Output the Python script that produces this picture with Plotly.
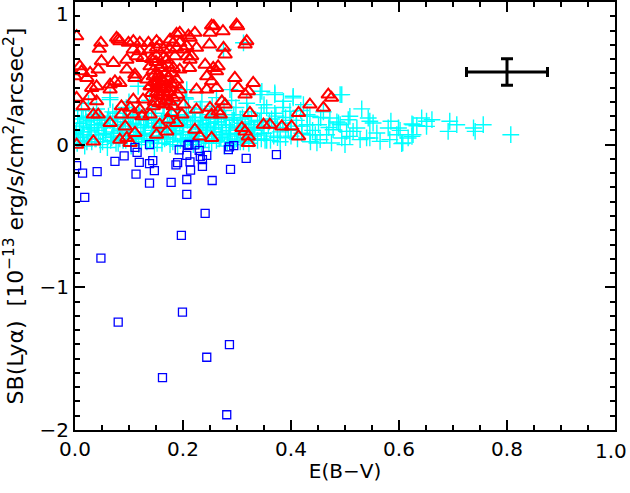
import plotly.graph_objects as go

# ---------------- data ----------------
# cyan plus points (E(B-V), SB)
cyan_ebv = [
 0.004,0.018,0.031,0.047,0.060,0.076,0.089,0.104,0.118,0.133,0.147,0.161,0.176,0.190,0.205,0.219,0.234,0.248,0.262,0.277,0.291,0.306,0.322,0.338,
 0.010,0.024,0.039,0.053,0.068,0.083,0.097,0.112,0.126,0.140,0.155,0.169,0.183,0.198,0.212,0.227,0.241,0.256,0.270,0.285,0.299,0.314,0.329,0.345,0.362,0.380,
 0.003,0.016,0.030,0.044,0.058,0.072,0.087,0.101,0.115,0.130,0.144,0.158,0.173,0.187,0.201,0.216,0.230,0.245,0.259,0.273,0.288,0.302,0.317,0.333,0.350,0.368,0.390,0.412,0.436,
 0.008,0.022,0.036,0.050,0.065,0.079,0.093,0.108,0.122,0.136,0.151,0.165,0.179,0.194,0.208,0.223,0.237,0.251,0.266,0.280,0.295,0.310,0.326,0.342,0.358,0.375,0.395,0.420,0.445,
 0.005,0.020,0.034,0.048,0.062,0.077,0.091,0.106,0.120,0.134,0.149,0.163,0.178,0.192,0.206,0.221,0.235,0.250,0.264,0.279,0.294,0.310,0.327,0.345,0.364,0.385,0.410,
 0.012,0.040,0.070,0.095,0.118,0.142,0.165,0.188,0.210,0.232,0.254,0.276,0.298,0.320,0.345,0.372,0.400,0.430,
 0.025,0.065,0.100,0.138,0.175,0.205,0.235,0.262,0.290,0.318,0.350,0.385,0.418,0.455,0.485,
 0.000,0.014,0.028,0.043,0.057,0.071,0.086,0.100,0.114,0.129,0.143,0.157,0.172,0.186,0.200,0.215,0.229,0.243,0.258,0.272,0.287,0.301,0.316,0.331,
 0.011,0.026,0.041,0.055,0.070,0.084,0.099,0.113,0.127,0.142,0.156,0.171,0.185,0.199,0.214,0.228,0.243,0.257,0.271,0.286,0.300,0.315,0.331,0.348,
 0.015,0.030,0.045,0.060,0.074,0.089,0.103,0.117,0.132,0.146,0.160,0.175,0.189,0.203,0.218,0.232,0.247,0.261,0.276,0.291,0.306,0.322,0.338,
 0.007,0.022,0.037,0.051,0.066,0.080,0.094,0.109,0.123,0.138,0.152,0.166,0.181,0.195,0.209,0.224,0.238,0.253,0.267,0.282,0.296,0.312,0.330,0.352,0.375,0.400,
 0.491,0.531,0.543,0.546,0.552,0.585,0.599,0.602,0.626,0.642,0.651,0.661,0.694,0.707,0.691,0.741,0.738,0.756,0.807,
 0.605,0.624,0.583,0.565,0.546,0.528,0.509,0.500,0.475,0.454,0.478,0.488,0.506,0.515,0.494,
 0.624,0.633,0.651,0.626,0.617,0.607,0.509,0.580,0.596,0.559,0.540,0.522,0.503,0.491,0.466,0.448,0.435,0.451,0.472,0.435,
 0.423,0.404,0.386,0.370,0.355,0.398,
 0.117,0.065,0.207,0.204,0.370,0.404,0.346,0.312,0.275,0.287,0.343,0.494,
 0.370,0.390,0.410,0.430,0.460,0.380,0.400,0.420,0.440,0.470,0.360,0.355,
]
cyan_sb = [
 0.01,-0.01,0.02,0.00,-0.02,0.01,0.03,-0.01,0.00,0.02,-0.02,0.01,0.00,-0.01,0.02,0.00,-0.02,0.01,0.03,-0.01,0.00,0.02,0.01,0.03,
 0.05,0.06,0.04,0.07,0.05,0.04,0.06,0.05,0.07,0.04,0.06,0.05,0.07,0.04,0.05,0.06,0.04,0.07,0.05,0.06,0.04,0.05,0.07,0.04,0.03,0.02,
 0.10,0.09,0.11,0.10,0.12,0.09,0.10,0.11,0.09,0.12,0.10,0.09,0.11,0.10,0.12,0.09,0.11,0.10,0.12,0.09,0.10,0.11,0.09,0.10,0.08,0.06,0.05,0.04,0.02,
 0.15,0.16,0.14,0.15,0.17,0.14,0.16,0.15,0.14,0.17,0.15,0.16,0.14,0.15,0.17,0.16,0.14,0.15,0.16,0.14,0.17,0.15,0.14,0.16,0.13,0.12,0.10,0.08,0.07,
 0.20,0.19,0.21,0.18,0.20,0.22,0.19,0.21,0.20,0.18,0.22,0.20,0.19,0.21,0.20,0.22,0.19,0.21,0.20,0.18,0.21,0.19,0.20,0.17,0.18,0.15,0.13,
 0.24,0.25,0.23,0.26,0.24,0.25,0.27,0.24,0.26,0.25,0.27,0.24,0.26,0.23,0.22,0.20,0.17,0.14,
 0.29,0.33,0.30,0.31,0.29,0.32,0.30,0.33,0.31,0.29,0.28,0.26,0.24,0.19,0.16,
 0.08,0.07,0.09,0.07,0.08,0.06,0.08,0.09,0.07,0.08,0.06,0.09,0.07,0.08,0.09,0.07,0.08,0.06,0.09,0.07,0.08,0.07,0.09,0.06,
 0.13,0.12,0.14,0.12,0.13,0.11,0.13,0.14,0.12,0.13,0.11,0.14,0.12,0.13,0.14,0.12,0.13,0.11,0.14,0.12,0.13,0.12,0.11,0.12,
 0.18,0.17,0.19,0.17,0.18,0.16,0.18,0.19,0.17,0.18,0.16,0.19,0.17,0.18,0.19,0.17,0.18,0.16,0.19,0.17,0.18,0.16,0.17,
 0.03,0.02,0.04,0.02,0.03,0.01,0.03,0.04,0.02,0.03,0.01,0.04,0.02,0.03,0.04,0.02,0.03,0.01,0.04,0.02,0.03,0.02,0.04,0.03,0.05,0.06,
 0.351,0.251,0.187,0.164,0.152,0.164,0.117,0.100,0.140,0.187,0.164,0.175,0.164,0.140,0.093,0.093,0.117,0.140,0.070,
 0.007,0.058,0.035,0.023,0.047,0.035,0.058,0.000,0.012,0.035,0.105,0.152,0.175,0.093,0.047,
 0.145,0.133,0.128,0.070,0.047,0.012,0.199,0.117,0.070,0.082,0.047,0.117,0.093,0.140,0.070,0.012,0.070,0.140,0.187,0.199,
 0.281,0.328,0.304,0.351,0.258,0.234,
 0.409,0.316,0.386,0.330,0.363,0.339,0.374,0.714,0.667,0.386,0.351,0.351,
 0.22,0.19,0.17,0.21,0.23,0.09,0.11,0.13,0.10,0.12,0.16,0.03,
]

# red triangles
red_ebv = [
 0.253,0.257,0.250,0.274,0.299,0.301,0.194,0.188,0.210,0.222,0.213,0.249,0.275,0.278,0.318,0.315,
 0.077,0.080,0.083,0.048,0.045,0.099,0.108,0.120,0.136,0.151,0.157,0.176,0.182,0.194,0.207,0.225,
 0.108,0.120,0.139,0.151,0.164,0.176,0.188,0.201,0.216,0.213,
 0.009,0.012,0.028,0.043,0.049,0.071,0.096,0.114,0.126,0.151,0.170,0.185,0.207,
 0.096,0.111,0.139,0.157,0.182,0.194,0.212,0.241,0.256,0.265,0.262,
 0.022,0.031,0.040,0.065,0.065,0.074,0.083,0.111,0.133,0.145,0.151,0.164,0.188,0.157,0.244,0.253,0.296,0.330,
 0.139,0.151,0.164,0.176,0.194,0.225,0.244,0.262,0.302,0.315,0.321,
 0.028,0.040,0.015,0.003,0.003,
 0.142,0.154,0.170,0.182,0.108,0.126,
 0.086,0.102,0.120,0.145,0.164,0.182,0.201,0.225,0.250,0.272,0.278,0.265,
 0.034,0.043,0.086,0.108,0.124,0.139,0.179,0.198,0.253,0.269,0.324,0.349,0.361,
 0.065,0.093,0.157,0.173,0.188,0.222,0.231,0.253,0.309,0.315,0.321,0.383,0.401,0.414,0.414,0.435,0.460,0.469,0.475,
 0.034,0.083,0.096,0.111,0.102,0.151,0.170,0.321,0.003,0.000,
 0.150,0.160,0.168,0.172,0.145,0.155,0.162,0.178,0.148,0.158,0.166,0.174,0.152,0.160,0.168,0.175,0.147,0.156,0.164,0.142,0.172,0.180,0.186,0.190,0.140,
]
red_sb = [
 0.835,0.830,0.784,0.795,0.842,0.830,0.784,0.777,0.765,0.784,0.749,0.702,0.679,0.632,0.725,0.702,
 0.749,0.737,0.725,0.714,0.672,0.714,0.725,0.714,0.714,0.725,0.702,0.737,0.714,0.714,0.690,0.679,
 0.667,0.655,0.667,0.679,0.667,0.667,0.679,0.667,0.620,0.596,
 0.549,0.514,0.503,0.526,0.585,0.573,0.596,0.620,0.608,0.620,0.596,0.620,0.620,
 0.526,0.491,0.549,0.538,0.538,0.526,0.538,0.561,0.538,0.549,0.514,
 0.468,0.398,0.409,0.421,0.386,0.444,0.433,0.468,0.456,0.479,0.433,0.444,0.456,0.468,0.479,0.444,0.468,0.433,
 0.409,0.398,0.386,0.398,0.386,0.386,0.386,0.398,0.398,0.351,0.374,
 0.339,0.304,0.269,0.328,0.760,
 0.363,0.351,0.339,0.328,0.316,0.316,
 0.269,0.258,0.246,0.269,0.281,0.269,0.281,0.246,0.258,0.304,0.281,0.234,
 0.211,0.211,0.211,0.211,0.199,0.211,0.222,0.211,0.211,0.211,0.222,0.140,0.140,
 0.152,0.128,0.140,0.175,0.152,0.105,0.058,0.047,0.117,0.093,0.058,0.128,0.128,0.222,0.058,0.281,0.258,0.351,0.328,
 0.023,0.035,0.047,0.082,0.012,0.070,0.093,0.012,0.000,0.479,
 0.58,0.56,0.50,0.47,0.52,0.49,0.45,0.43,0.44,0.42,0.40,0.37,0.37,0.34,0.31,0.30,0.30,0.29,0.61,0.60,0.56,0.50,0.42,0.35,0.41,
]

# blue squares
blue_ebv = [
 0.003,0.014,0.041,0.074,0.091,0.111,0.115,0.119,0.113,0.138,0.138,0.144,0.147,0.138,0.178,0.187,
 0.190,0.193,0.207,0.209,0.211,0.213,0.214,0.207,0.207,0.222,0.230,0.232,0.236,0.236,0.244,0.254,
 0.241,0.284,0.286,0.294,0.288,0.317,0.373,0.018,0.197,0.048,0.199,0.080,0.286,0.244,0.162,0.281,
]
blue_sb = [
 -0.147,-0.199,-0.189,-0.117,-0.079,-0.019,-0.054,-0.124,-0.206,0.000,-0.133,-0.112,-0.182,-0.269,-0.265,-0.142,
 -0.126,-0.037,-0.075,-0.005,0.002,-0.121,-0.178,-0.244,-0.349,-0.002,-0.040,-0.082,-0.105,-0.152,-0.075,-0.251,
 -0.482,-0.035,-0.016,-0.007,-0.173,-0.096,-0.070,-0.370,-0.636,-0.795,-1.174,-1.244,-1.401,-1.490,-1.633,-1.893,
]

# typical error bar
err_x = [0.80]
err_y = [0.51]
err_dx = [0.075]
err_dy = [0.093]

x_ticks = [0.0, 0.2, 0.4, 0.6, 0.8]
x_last_tick = 1.0
y_ticks = [-2, -1, 0]
y_last_tick = 1

# ---------------- figure ----------------
fig = go.Figure()
fig.add_trace(go.Scatter(x=cyan_ebv, y=cyan_sb, mode="markers",
    marker=dict(symbol="cross-thin-open", size=12, color="#00ffff",
                line=dict(color="#00ffff", width=1.4)), showlegend=False))
fig.add_trace(go.Scatter(x=red_ebv, y=red_sb, mode="markers",
    marker=dict(symbol="triangle-up-open", size=12, color="#ff0000",
                line=dict(color="#ff0000", width=2)), showlegend=False))
fig.add_trace(go.Scatter(x=blue_ebv, y=blue_sb, mode="markers",
    marker=dict(symbol="square-open", size=8, color="#0000ff",
                line=dict(color="#0000ff", width=1.3)), showlegend=False))
fig.add_trace(go.Scatter(x=err_x, y=err_y, mode="markers",
    marker=dict(size=1, color="black"),
    error_x=dict(type="data", array=err_dx, color="black", thickness=3, width=5),
    error_y=dict(type="data", array=err_dy, color="black", thickness=3, width=6),
    showlegend=False))

FONT = "DejaVu Sans, Liberation Sans, sans-serif"
axis_font = dict(family=FONT, size=20, color="black")
ytitle_font = dict(family=FONT, size=22, color="black")
fig.update_xaxes(range=[0, 1], tickvals=x_ticks, tickformat=".1f",
    ticks="inside", ticklen=10, tickwidth=2, tickcolor="black",
    showline=True, linewidth=2, linecolor="black", mirror="ticks",
    showgrid=False, zeroline=False, tickfont=axis_font, automargin=False,
    minor=dict(ticks="inside", dtick=0.05, ticklen=5, tickwidth=2, tickcolor="black", showgrid=False),
    title=dict(text="E(B−V)", font=axis_font, standoff=4))
fig.update_yaxes(range=[-2, 1], tickvals=y_ticks,
    ticks="inside", ticklen=10, tickwidth=2, tickcolor="black",
    showline=True, linewidth=2, linecolor="black", mirror="ticks",
    showgrid=False, zeroline=False, tickfont=axis_font, automargin=False,
    minor=dict(ticks="inside", dtick=0.1, ticklen=5, tickwidth=2, tickcolor="black", showgrid=False),
    title=dict(text="SB(Lyα)  [10<sup>−13</sup> erg/s/cm<sup>2</sup>/arcsec<sup>2</sup>]",
               font=ytitle_font, standoff=12))
fig.add_annotation(x=x_last_tick, y=0, xref="x", yref="paper", text="1.0",
    showarrow=False, xanchor="right", yanchor="top", xshift=14, yshift=-7, font=axis_font)
fig.add_annotation(x=0, y=y_last_tick, xref="paper", yref="y", text="1",
    showarrow=False, xanchor="right", yanchor="top", xshift=-4, yshift=2, font=axis_font)
fig.update_layout(width=630, height=493, plot_bgcolor="white", paper_bgcolor="white",
    margin=dict(l=75, r=15, t=2, b=63), hovermode=False)
fig.write_html("out.html", config={"displayModeBar": False, "staticPlot": True},
    post_script="document.body.style.margin='0';document.body.style.overflow='hidden';")
